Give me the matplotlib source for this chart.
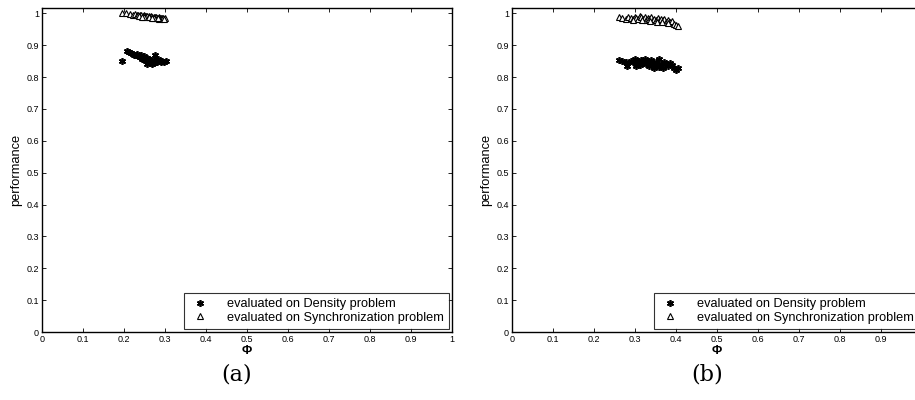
import numpy as np
import matplotlib.pyplot as plt

# (a) GA run
a_sync_x = [0.195, 0.205, 0.215, 0.222, 0.228, 0.232, 0.236, 0.240, 0.243, 0.246, 0.249, 0.252,
            0.255, 0.258, 0.261, 0.264, 0.267, 0.270, 0.273, 0.276, 0.279, 0.282, 0.285, 0.288,
            0.291, 0.294, 0.297, 0.300, 0.238, 0.250, 0.262, 0.274, 0.286, 0.298, 0.245, 0.268, 0.283]
a_sync_y = [1.000, 1.000, 0.998, 0.996, 0.997, 0.995, 0.996, 0.994, 0.995, 0.993, 0.994, 0.992,
            0.993, 0.991, 0.992, 0.990, 0.991, 0.989, 0.990, 0.988, 0.989, 0.987, 0.988, 0.986,
            0.987, 0.985, 0.986, 0.985, 0.991, 0.989, 0.988, 0.986, 0.984, 0.983, 0.990, 0.987, 0.985]
a_dens_x = [0.195, 0.208, 0.213, 0.218, 0.222, 0.226, 0.230, 0.233, 0.236, 0.239, 0.241, 0.244,
            0.247, 0.249, 0.252, 0.255, 0.257, 0.260, 0.262, 0.265, 0.268, 0.270, 0.273, 0.276,
            0.279, 0.282, 0.286, 0.290, 0.294, 0.298, 0.302, 0.275, 0.245, 0.258, 0.284]
a_dens_y = [0.850, 0.882, 0.878, 0.876, 0.872, 0.870, 0.868, 0.872, 0.866, 0.864, 0.870, 0.862,
            0.858, 0.866, 0.855, 0.852, 0.860, 0.848, 0.856, 0.845, 0.850, 0.842, 0.855, 0.868,
            0.850, 0.848, 0.852, 0.846, 0.850, 0.848, 0.850, 0.843, 0.857, 0.840, 0.856]

# (b) second run
b_sync_x = [0.262, 0.270, 0.278, 0.284, 0.290, 0.295, 0.300, 0.304, 0.308, 0.312, 0.316, 0.320,
            0.324, 0.328, 0.332, 0.336, 0.340, 0.344, 0.348, 0.352, 0.356, 0.360, 0.364, 0.368,
            0.372, 0.376, 0.380, 0.385, 0.390, 0.395, 0.400, 0.406, 0.296, 0.318, 0.338, 0.354,
            0.366, 0.382]
b_sync_y = [0.990, 0.986, 0.984, 0.988, 0.985, 0.982, 0.990, 0.986, 0.983, 0.992, 0.988, 0.984,
            0.990, 0.980, 0.986, 0.982, 0.988, 0.978, 0.984, 0.980, 0.986, 0.976, 0.982, 0.978,
            0.984, 0.974, 0.980, 0.972, 0.976, 0.968, 0.964, 0.960, 0.978, 0.978, 0.976, 0.974,
            0.972, 0.970]
b_dens_x = [0.262, 0.268, 0.278, 0.282, 0.292, 0.296, 0.300, 0.304, 0.308, 0.312, 0.316, 0.320,
            0.324, 0.328, 0.332, 0.336, 0.340, 0.344, 0.348, 0.352, 0.356, 0.360, 0.364, 0.368,
            0.372, 0.378, 0.382, 0.386, 0.392, 0.396, 0.400, 0.405, 0.302, 0.326, 0.346, 0.360, 0.338]
b_dens_y = [0.855, 0.852, 0.846, 0.836, 0.852, 0.846, 0.856, 0.842, 0.850, 0.838, 0.854, 0.846,
            0.858, 0.840, 0.850, 0.834, 0.855, 0.844, 0.830, 0.848, 0.838, 0.856, 0.842, 0.828,
            0.846, 0.840, 0.836, 0.844, 0.838, 0.830, 0.822, 0.828, 0.834, 0.852, 0.840, 0.832, 0.846]

ticks = [0, 0.1, 0.2, 0.3, 0.4, 0.5, 0.6, 0.7, 0.8, 0.9, 1]
tick_labels = ['0', '0.1', '0.2', '0.3', '0.4', '0.5', '0.6', '0.7', '0.8', '0.9', '1']

plt.rcParams['font.family'] = ['Liberation Sans', 'DejaVu Sans']

fig = plt.figure(figsize=(9.15, 4.0), dpi=100)
W, H = 915.0, 400.0

panels = [
    (41.7, a_dens_x, a_dens_y, a_sync_x, a_sync_y, '(a)'),
    (511.7, b_dens_x, b_dens_y, b_sync_x, b_sync_y, '(b)'),
]

for left, dx, dy, sx, sy, tag in panels:
    ax = fig.add_axes([left / W, 68 / H, 410 / W, 324 / H])
    ax.plot(dx, dy, linestyle='none', marker=(6, 2, 0), markersize=5,
            color='black', markeredgewidth=1.2, label='evaluated on Density problem')
    ax.plot(sx, sy, linestyle='none', marker='^', markersize=5, markerfacecolor='white',
            markeredgecolor='black', markeredgewidth=0.8,
            label='evaluated on Synchronization problem')
    ax.set_xlim(0, 1)
    ax.set_ylim(0, 1.017)
    ax.set_xticks(ticks)
    ax.set_xticklabels(tick_labels)
    ax.set_yticks(ticks)
    ax.set_yticklabels(tick_labels)
    ax.tick_params(direction='in', length=3, width=0.6, labelsize=6.5, pad=2,
                   top=True, right=True)
    for s in ax.spines.values():
        s.set_linewidth(1.0)
    ax.set_xlabel('Φ', fontsize=9, labelpad=1, fontweight='bold')
    ax.set_ylabel('performance', fontsize=9.3, labelpad=3)
    leg = ax.legend(loc='lower right', fontsize=9.2, frameon=True, fancybox=False,
                    borderaxespad=0.25, handletextpad=1.3, borderpad=0.4,
                    labelspacing=0.1, handlelength=1.6)
    leg.get_frame().set_edgecolor('black')
    leg.get_frame().set_linewidth(0.8)
    fig.text((left + 195) / W, 1 - 375 / H, tag, ha='center', va='center',
             fontsize=16, family=['DejaVu Serif'])

fig.savefig('out.png', dpi=100)
